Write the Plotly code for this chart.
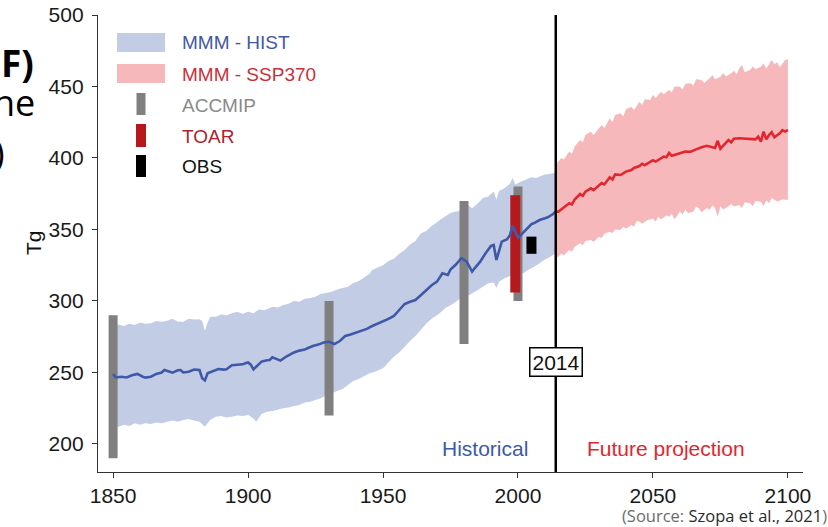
import plotly.graph_objects as go

# ---- Multi-model mean, historical run (Tg) ----
HIST_YEARS = [1850, 1851, 1853, 1855, 1857, 1859, 1861, 1862, 1864, 1866, 1868, 1869, 1871, 1872,
              1874, 1875, 1876, 1878, 1880, 1882, 1883, 1884, 1885, 1887, 1889, 1891, 1892, 1894,
              1896, 1898, 1899, 1900, 1901, 1902, 1903, 1905, 1907, 1908, 1909, 1911, 1912, 1914,
              1915, 1917, 1919, 1921, 1922, 1924, 1926, 1928, 1930, 1931, 1932, 1934, 1936, 1938,
              1941, 1944, 1946, 1948, 1950, 1952, 1954, 1956, 1958, 1960, 1962, 1964, 1966, 1968,
              1970, 1972, 1974, 1975, 1977, 1979, 1981, 1983, 1984, 1986, 1988, 1990, 1991, 1992,
              1993, 1994, 1996, 1997, 1998, 1999, 2000, 2001, 2003, 2005, 2006, 2008, 2010, 2011,
              2013, 2014]
HIST_MEAN = [249, 246.5, 247, 246.5, 248, 249, 247, 246.4, 247, 249, 250, 251.7, 250.5, 249.9,
             251.5, 251.7, 250, 250.5, 252, 251.7, 246, 244.5, 249.5, 251, 252.4, 252, 252.2, 255,
             255.5, 255.7, 256.5, 257, 255.5, 252.2, 254, 257.6, 258.5, 258.7, 260.6, 259, 258.3, 261,
             262.2, 264, 265.3, 266, 266.9, 268.5, 269.5, 271, 271.5, 270.5, 269.9, 272, 275.5, 276.5,
             278.5, 280.5, 282.5, 284, 285.5, 287.5, 289.5, 293.7, 297.9, 299.5, 300.7, 304, 307.7, 311,
             313.5, 319.4, 318.2, 322, 325.5, 329.9, 327.5, 320.5, 323, 327.5, 333.4, 338.5, 339.2, 328.7,
             335, 341.5, 343.2, 346, 352.5, 348.5, 344.5, 346, 350.1, 353.8, 354.5, 356.6, 357.8, 358.5,
             360.8, 362.5]

# Model spread, historical run
HIST_UP_YEARS = [1850, 1852, 1854, 1856, 1858, 1860, 1862, 1864, 1866, 1868, 1870, 1872, 1874, 1876,
                 1878, 1880, 1882, 1883, 1884, 1885, 1886, 1888, 1890, 1892, 1894, 1896, 1898, 1900,
                 1902, 1904, 1906, 1907, 1909, 1911, 1913, 1915, 1917, 1919, 1921, 1923, 1925, 1927,
                 1929, 1931, 1933, 1935, 1937, 1939, 1941, 1943, 1945, 1946, 1948, 1950, 1952, 1954,
                 1956, 1958, 1960, 1962, 1964, 1966, 1968, 1970, 1971, 1973, 1975, 1977, 1979, 1981,
                 1983, 1985, 1987, 1989, 1991, 1992, 1993, 1995, 1997, 1998, 1999, 2001, 2003, 2005,
                 2007, 2008, 2010, 2012, 2014]
HIST_UPPER = [282, 283.5, 282.5, 284, 283.2, 285, 284, 284.4, 286, 285.5, 286.2, 287.5, 285.5, 285.5,
              287.5, 287, 287.2, 286, 279.2, 285, 289, 289, 290.5, 290, 291.4, 292.5, 291, 292.5,
              291.5, 294, 293.5, 294.2, 296, 295.5, 297.2, 298, 300, 299.5, 301.5, 302, 303, 305,
              305.5, 306.5, 308, 309, 310, 312.5, 314, 316.5, 319, 321.7, 323.5, 325, 328, 329.5,
              333, 335.7, 339.5, 342, 347.3, 349, 352.5, 355, 356.6, 359, 361.5, 362.5, 363, 368,
              364.8, 368, 372, 373, 376.5, 371, 377, 378.8, 382, 386, 381.5, 383.4, 385, 386.5,
              386, 387, 388.5, 389, 389.7]

HIST_LO_YEARS = [1850, 1852, 1854, 1856, 1858, 1860, 1862, 1864, 1866, 1868, 1870, 1872, 1874, 1876,
                 1878, 1880, 1882, 1884, 1886, 1888, 1890, 1892, 1894, 1896, 1898, 1900, 1902, 1903,
                 1905, 1907, 1909, 1911, 1913, 1915, 1917, 1919, 1921, 1923, 1925, 1927, 1929, 1931,
                 1933, 1935, 1937, 1939, 1941, 1943, 1945, 1947, 1950, 1952, 1954, 1956, 1958, 1960,
                 1962, 1964, 1966, 1968, 1970, 1971, 1973, 1975, 1977, 1979, 1981, 1983, 1985, 1987,
                 1989, 1991, 1992, 1993, 1995, 1997, 1998, 2000, 2002, 2004, 2006, 2008, 2010, 2012,
                 2014]
HIST_LOWER = [211, 212.1, 213.5, 212.5, 214.5, 213.5, 214.5, 214, 215, 214.5, 215.6, 216.5, 215.5, 216.8,
              217.5, 216.5, 215.6, 212.1, 217, 219.1, 219.5, 218.5, 219.1, 220, 219.5, 220.3, 218, 215.6,
              221, 222.6, 223, 224, 225, 225.5, 226.5, 227.3, 229, 229.5, 230.8, 232, 234, 235.5,
              237, 238.5, 241.3, 244, 245.5, 247.5, 249.5, 250.5, 253, 257, 261, 264, 268, 272,
              275.5, 279.7, 284, 287.5, 290, 291.4, 295, 297, 299.5, 302.5, 303, 305.4, 307.5, 310,
              312.4, 313, 309, 313.5, 315.9, 317.5, 320, 318.5, 319.4, 322, 324, 326.4, 329, 331,
              333.4]

# ---- Multi-model mean, SSP3-7.0 projection (Tg) ----
FUT_YEARS = [2014, 2015, 2016, 2017, 2019, 2020, 2021, 2023, 2024, 2025, 2027, 2028, 2030, 2031,
             2032, 2034, 2035, 2036, 2038, 2040, 2042, 2043, 2045, 2046, 2047, 2049, 2050, 2051,
             2053, 2054, 2055, 2056, 2057, 2059, 2060, 2062, 2064, 2066, 2067, 2068, 2070, 2071,
             2073, 2074, 2075, 2077, 2078, 2079, 2080, 2082, 2084, 2086, 2088, 2089, 2090, 2091,
             2092, 2093, 2094, 2095, 2096, 2097, 2098, 2099, 2100]
FUT_MEAN = [362.5, 362.5, 364, 365.5, 368.3, 367.5, 371, 374.8, 373.5, 376.5, 378.8, 377.5, 380.4, 382.5,
            381.5, 386.5, 385, 388.5, 388.1, 390.5, 391.6, 393, 394.4, 396, 395, 397.4, 398.5, 397.5,
            399.8, 401, 400.5, 403.5, 401.5, 403, 403.3, 404.5, 404.4, 406, 406.8, 407.5, 408.5, 407.9,
            407, 412, 406.5, 410.5, 412.6, 411, 413.5, 413.8, 413.5, 413.6, 413, 414.9, 411.5, 418.4,
            413, 416.1, 418, 414.5, 416, 417.2, 419.5, 418.5, 419.6]

FUT_UP_YEARS = [2014, 2015, 2016, 2017, 2019, 2020, 2021, 2023, 2024, 2025, 2027, 2028, 2030, 2031,
                2032, 2034, 2035, 2036, 2038, 2039, 2040, 2042, 2043, 2045, 2046, 2047, 2049, 2050,
                2051, 2053, 2054, 2056, 2057, 2058, 2060, 2061, 2062, 2064, 2065, 2066, 2068, 2069,
                2071, 2072, 2073, 2075, 2076, 2077, 2079, 2080, 2081, 2082, 2083, 2084, 2086, 2087,
                2088, 2090, 2091, 2092, 2094, 2095, 2096, 2097, 2098, 2099, 2100]
FUT_UPPER = [396, 397.5, 400, 399, 404.5, 403, 408, 412.6, 411, 416, 418.4, 416, 420.8, 423,
             421, 427.8, 425, 430, 431.3, 429, 434, 435.9, 433.5, 439.4, 437, 441, 440.6, 444,
             442, 446.4, 444.5, 447.6, 446, 450, 449.9, 448, 452, 452.2, 450.5, 455, 454.5, 452.5,
             455.7, 458, 455, 456.9, 459.5, 457, 459.2, 461, 458.5, 462.7, 465, 460, 461.5, 464,
             462, 463.8, 466, 462.5, 468.5, 465.5, 467, 463.5, 466, 468.5, 469]

FUT_LO_YEARS = [2014, 2015, 2016, 2017, 2019, 2020, 2021, 2023, 2024, 2025, 2027, 2028, 2030, 2031,
                2032, 2034, 2035, 2036, 2038, 2039, 2040, 2042, 2043, 2044, 2045, 2046, 2048, 2050,
                2051, 2052, 2053, 2055, 2056, 2057, 2058, 2060, 2061, 2062, 2063, 2065, 2066, 2067,
                2068, 2070, 2071, 2072, 2073, 2074, 2075, 2076, 2078, 2079, 2080, 2082, 2083, 2084,
                2086, 2087, 2088, 2090, 2091, 2092, 2093, 2094, 2096, 2098, 2100]
FUT_LOWER = [330, 331, 333, 332, 335.7, 334.5, 338, 340.3, 339, 342, 342.7, 341.5, 345, 344,
             347, 348.5, 347.5, 350, 349.7, 352, 350.5, 353.1, 352, 356, 355.5, 354, 356.6, 357.5,
             355.5, 358.9, 357, 360, 358.9, 361, 357, 362.5, 360.5, 364, 361.3, 362.5, 366, 364.8,
             362, 365, 363.6, 367, 365, 358.9, 366.5, 364, 366, 368, 366, 367.1, 365, 369,
             368.3, 366.5, 370, 369.4, 366.5, 370.5, 368.3, 372, 369.5, 371, 370.6]

# ---- Observation-based and model-intercomparison ranges (Tg) ----
ACCMIP_YEARS = [1850, 1930, 1980, 2000]
ACCMIP_LOW = [190, 220, 270, 300]
ACCMIP_HIGH = [290, 300, 370, 380]

TOAR_YEARS = [1999]
TOAR_LOW = [306]
TOAR_HIGH = [374]

OBS_YEARS = [2005]
OBS_LOW = [333]
OBS_HIGH = [345]

SPLIT_YEAR = 2014
X_TICKS = [1850, 1900, 1950, 2000, 2050, 2100]
Y_TICKS = [200, 250, 300, 350, 400, 450, 500]

BLUE_BAND = "#c3cce5"
RED_BAND = "#f6b8bb"
BLUE_LINE = "#3e59a8"
RED_LINE = "#e3262e"
GREY = "#808080"
DARK_RED = "#b5191e"

# plot-area geometry in page pixels
W, H = 828, 527
L, R, T, B = 98, 25, 15, 55
PW, PH = W - L - R, H - T - B


def px(x):
    return (x - L) / PW


def py(y):
    return (H - B - y) / PH


def band(xu, yu, xl, yl):
    return list(xu) + list(reversed(xl)), list(yu) + list(reversed(yl))


def segments(years, lows, highs):
    xs, ys = [], []
    for yr, lo, hi in zip(years, lows, highs):
        xs += [yr, yr, None]
        ys += [lo, hi, None]
    return xs, ys


fig = go.Figure()

bx, by = band(HIST_UP_YEARS, HIST_UPPER, HIST_LO_YEARS, HIST_LOWER)
fig.add_trace(go.Scatter(x=bx, y=by, fill="toself", fillcolor=BLUE_BAND, mode="none",
                         hoverinfo="skip", name="MMM - HIST"))
bx, by = band(FUT_UP_YEARS, FUT_UPPER, FUT_LO_YEARS, FUT_LOWER)
fig.add_trace(go.Scatter(x=bx, y=by, fill="toself", fillcolor=RED_BAND, mode="none",
                         hoverinfo="skip", name="MMM - SSP370"))

sx, sy = segments(ACCMIP_YEARS, ACCMIP_LOW, ACCMIP_HIGH)
fig.add_trace(go.Scatter(x=sx, y=sy, mode="lines", line=dict(color=GREY, width=9), name="ACCMIP"))
sx, sy = segments(TOAR_YEARS, TOAR_LOW, TOAR_HIGH)
fig.add_trace(go.Scatter(x=sx, y=sy, mode="lines", line=dict(color=DARK_RED, width=10), name="TOAR"))
sx, sy = segments(OBS_YEARS, OBS_LOW, OBS_HIGH)
fig.add_trace(go.Scatter(x=sx, y=sy, mode="lines", line=dict(color="black", width=10), name="OBS"))

fig.add_trace(go.Scatter(x=HIST_YEARS, y=HIST_MEAN, mode="lines",
                         line=dict(color=BLUE_LINE, width=2.6), name="HIST mean"))
fig.add_trace(go.Scatter(x=FUT_YEARS, y=FUT_MEAN, mode="lines",
                         line=dict(color=RED_LINE, width=2.6), name="SSP370 mean"))

shapes = [
    dict(type="line", xref="x", yref="paper", x0=SPLIT_YEAR, x1=SPLIT_YEAR, y0=0, y1=1,
         line=dict(color="black", width=2.5), layer="above"),
]

# legend glyphs
shapes += [
    dict(type="rect", xref="paper", yref="paper", x0=px(117), x1=px(165), y0=py(52), y1=py(33),
         fillcolor=BLUE_BAND, line=dict(width=0)),
    dict(type="rect", xref="paper", yref="paper", x0=px(117), x1=px(165), y0=py(83), y1=py(64),
         fillcolor=RED_BAND, line=dict(width=0)),
    dict(type="rect", xref="paper", yref="paper", x0=px(136.5), x1=px(145.5), y0=py(115), y1=py(93),
         fillcolor=GREY, line=dict(width=0)),
    dict(type="rect", xref="paper", yref="paper", x0=px(136), x1=px(146), y0=py(147), y1=py(124),
         fillcolor=DARK_RED, line=dict(width=0)),
    dict(type="rect", xref="paper", yref="paper", x0=px(136), x1=px(146), y0=py(177), y1=py(155),
         fillcolor="black", line=dict(width=0)),
]

ARIAL = "Liberation Sans, Arial, sans-serif"
annotations = []
for label, color, yc in [("MMM - HIST", "#44599f", 43), ("MMM - SSP370", "#cc2e3a", 74),
                         ("ACCMIP", "#8a8a8a", 105), ("TOAR", "#b0222a", 136), ("OBS", "#111111", 166)]:
    annotations.append(dict(xref="paper", yref="paper", x=px(180), y=py(yc), text=label,
                            xanchor="left", yanchor="middle", showarrow=False,
                            font=dict(family=ARIAL, size=19, color=color)))

annotations += [
    dict(x=SPLIT_YEAR, y=257, xref="x", yref="y", text="2014", showarrow=False,
         font=dict(family=ARIAL, size=21, color="#111"), bgcolor="white",
         bordercolor="black", borderwidth=1.5, borderpad=2),
    dict(xref="paper", yref="paper", x=px(530), y=py(448), text="Historical", showarrow=False,
         xanchor="right", yanchor="middle", font=dict(family=ARIAL, size=21, color=BLUE_LINE)),
    dict(xref="paper", yref="paper", x=px(585), y=py(448), text="Future projection", showarrow=False,
         xanchor="left", yanchor="middle", font=dict(family=ARIAL, size=21, color=RED_LINE)),
    dict(xref="paper", yref="paper", x=px(33), y=py(243), text="Tg", showarrow=False, textangle=-90,
         xanchor="center", yanchor="middle", font=dict(family=ARIAL, size=21, color="#111")),
    dict(xref="paper", yref="paper", x=px(829), y=py(515),
         text="<span style='color:#6b6b6b'>(Source: </span>Szopa et al., 2021"
              "<span style='color:#6b6b6b'>)</span>",
         showarrow=False, xanchor="right", yanchor="middle",
         font=dict(family="Open Sans", size=16.5, color="#2a2a2a")),
    # slide text running in from the left edge
    dict(xref="paper", yref="paper", x=px(36), y=py(63), text="<b>F)</b>", showarrow=False,
         xanchor="right", yanchor="middle", font=dict(family="Open Sans", size=37, color="black")),
    dict(xref="paper", yref="paper", x=px(37), y=py(103), text="ne", showarrow=False,
         xanchor="right", yanchor="middle", font=dict(family="Open Sans", size=36, color="black")),
    dict(xref="paper", yref="paper", x=px(7), y=py(152), text=")", showarrow=False,
         xanchor="right", yanchor="middle", font=dict(family="Open Sans", size=36, color="black")),
]

fig.update_layout(
    width=W, height=H,
    margin=dict(l=L, r=R, t=T, b=B, autoexpand=False),
    paper_bgcolor="white", plot_bgcolor="white",
    showlegend=False,
    shapes=shapes,
    annotations=annotations,
    xaxis=dict(range=[1844.4, 2105.6], tickvals=X_TICKS, showgrid=False, zeroline=False,
               showline=True, linecolor="#333", linewidth=1.4, ticks="outside", ticklen=5,
               tickcolor="#333", tickwidth=1.4,
               tickfont=dict(family=ARIAL, size=21, color="#1a1a1a")),
    yaxis=dict(range=[180.4, 500], tickvals=Y_TICKS, showgrid=False, zeroline=False,
               showline=True, linecolor="#333", linewidth=1.4, ticks="outside", ticklen=5,
               tickcolor="#333", tickwidth=1.4, ticklabelstandoff=4,
               tickfont=dict(family=ARIAL, size=21, color="#1a1a1a")),
)

fig.write_html("out.html")
